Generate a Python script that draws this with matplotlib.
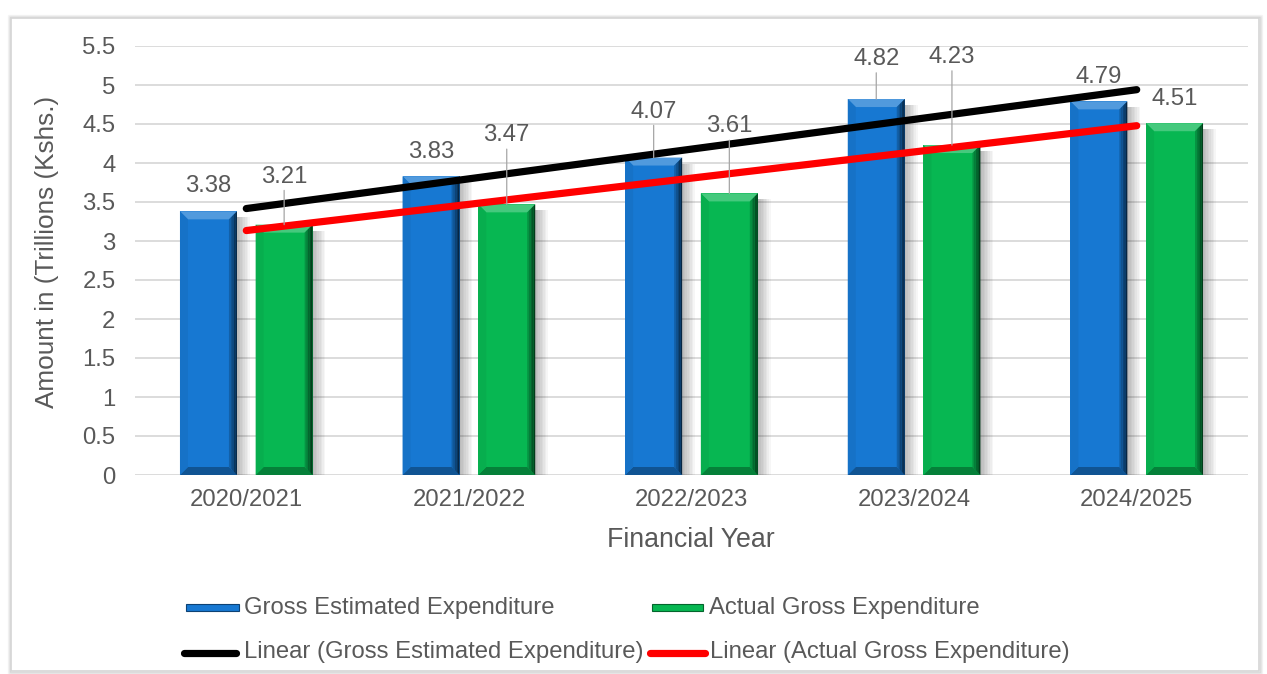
import numpy as np
import matplotlib.pyplot as plt
import matplotlib.colors as mcolors
from matplotlib.patches import Polygon, Rectangle
from matplotlib.lines import Line2D

plt.rcParams['font.family'] = ['Liberation Sans', 'DejaVu Sans']

years = ['2020/2021', '2021/2022', '2022/2023', '2023/2024', '2024/2025']
gross_estimated = [3.38, 3.83, 4.07, 4.82, 4.79]
actual_gross = [3.21, 3.47, 3.61, 4.23, 4.51]

# how high each value label sits above its bar (pixels)
est_label_lift = [25, 24, 46, 40, 24]
act_label_lift = [48, 69, 67, 88, 24]

TEXT = '#595959'
BLUE = '#1778D2'
GREEN = '#07B752'
W, H = 1267, 674
FS = 17.2


def shade(color, f):
    c = np.array(mcolors.to_rgb(color))
    if f >= 0:
        c = c + (1 - c) * f
    else:
        c = c * (1 + f)
    return tuple(c)


def bevel_bar(ax, bar, color):
    # fake Excel bevel + soft shadow on a plain bar
    x0, w, top = bar.get_x(), bar.get_width(), bar.get_height()
    x1 = x0 + w
    p0 = ax.transData.transform((0, 0))
    p1 = ax.transData.transform((1, 1))
    ux, uy = 1 / (p1[0] - p0[0]), 1 / (p1[1] - p0[1])
    dx, dy = 8 * ux, 8 * uy
    # shadow
    for k in range(8):
        ax.add_patch(Rectangle((x1, 0), (k + 1) * 1.6 * ux, top - 6 * uy,
                               color='black', alpha=0.035, lw=0, zorder=2))
    # top face
    ax.add_patch(Polygon([(x0, top), (x1, top), (x1 - dx, top - dy), (x0 + dx, top - dy)],
                         closed=True, color=shade(color, 0.25), lw=0, zorder=4))
    # bottom face
    ax.add_patch(Polygon([(x0, 0), (x1, 0), (x1 - dx, dy), (x0 + dx, dy)],
                         closed=True, color=shade(color, -0.3), lw=0, zorder=4))
    # left face
    ax.add_patch(Polygon([(x0, 0), (x0, top), (x0 + dx, top - dy), (x0 + dx, dy)],
                         closed=True, color=shade(color, -0.05), lw=0, zorder=4))
    # right face, darkening to the edge
    n = 5
    for i in range(n):
        u0, u1 = i / n, (i + 1) / n
        xa, xb = x1 - dx + u0 * dx, x1 - dx + u1 * dx
        ax.add_patch(Polygon([(xa, top - dy + u0 * dy), (xb, top - dy + u1 * dy),
                              (xb, dy - u1 * dy), (xa, dy - u0 * dy)],
                             closed=True, color=shade(color, -0.2 - 0.12 * i), lw=0, zorder=4))


fig = plt.figure(figsize=(W / 100, H / 100), dpi=100)
ax = fig.add_axes([135 / W, 199 / H, 1113 / W, 429 / H])

x = np.arange(len(years))
ax.set_xlim(-0.5, len(years) - 0.5)
ax.set_ylim(0, 5.5)

bw = 0.256
est_bars = ax.bar(x - 0.17, gross_estimated, bw, color=BLUE, zorder=3)
act_bars = ax.bar(x + 0.17, actual_gross, bw, color=GREEN, zorder=3)
for b in est_bars:
    bevel_bar(ax, b, BLUE)
for b in act_bars:
    bevel_bar(ax, b, GREEN)

# linear trend lines
xs = x + 1
for vals, col in [(gross_estimated, 'black'), (actual_gross, '#FF0000')]:
    k, c = np.polyfit(xs, vals, 1)
    ax.plot(x, k * xs + c, color=col, lw=5.2, solid_capstyle='round', zorder=6)

# value labels
for bars, vals, lifts in [(est_bars, gross_estimated, est_label_lift),
                          (act_bars, actual_gross, act_label_lift)]:
    for b, v, lift in zip(bars, vals, lifts):
        cx = b.get_x() + b.get_width() / 2
        arrow = None
        if lift > 30:
            arrow = dict(arrowstyle='-', color='#A6A6A6', lw=0.9, shrinkA=0, shrinkB=0)
        ax.annotate(f'{v:.2f}', xy=(cx, v), xytext=(0, lift), textcoords='offset pixels',
                    ha='center', va='center', fontsize=FS, color=TEXT,
                    arrowprops=arrow, zorder=7)

ax.set_yticks(np.arange(0, 5.51, 0.5))
ax.set_yticklabels([f'{t:g}' for t in np.arange(0, 5.51, 0.5)])
ax.set_xticks(x)
ax.set_xticklabels(years)
ax.tick_params(axis='both', length=0, labelsize=FS, labelcolor=TEXT)
ax.tick_params(axis='y', pad=14)
ax.tick_params(axis='x', pad=10)
ax.grid(axis='y', color='#D9D9D9', lw=1.3, zorder=0)
ax.set_axisbelow(True)
for s in ax.spines.values():
    s.set_visible(False)

fig.text(691 / W, 1 - 540 / H, 'Financial Year', ha='center', va='center',
         fontsize=19.3, color=TEXT)
fig.text(47 / W, 1 - 252 / H, 'Amount in (Trillions (Kshs.)', ha='center', va='center',
         rotation=90, fontsize=18.8, color=TEXT)

# legend, drawn by hand in two rows
def fx(px):
    return px / W


def fy(py):
    return 1 - py / H


for x0, x1, col, label, tx in [(186, 239, BLUE, 'Gross Estimated Expenditure', 244),
                               (652, 703, GREEN, 'Actual Gross Expenditure', 709)]:
    fig.add_artist(Rectangle((fx(x0), fy(611)), fx(x1 - x0), 7 / H, transform=fig.transFigure,
                             facecolor=col, edgecolor=shade(col, -0.45), lw=0.8))
    fig.text(fx(tx), fy(608), label, ha='left', va='center', fontsize=FS, color=TEXT)

for x0, x1, col, label, tx in [(184, 236, 'black', 'Linear (Gross Estimated Expenditure)', 244),
                               (650, 705, '#FF0000', 'Linear (Actual Gross Expenditure)', 710)]:
    fig.add_artist(Line2D([fx(x0), fx(x1)], [fy(653), fy(653)], transform=fig.transFigure,
                          color=col, lw=5.2, solid_capstyle='round'))
    fig.text(fx(tx), fy(652), label, ha='left', va='center', fontsize=FS, color=TEXT)

# chart border with a faint shadow
for k, a in [(3, 0.04), (2, 0.07), (1, 0.12)]:
    fig.add_artist(Rectangle((fx(11 - k), fy(671 + k)), fx(1248 + 2 * k), (653 + 2 * k) / H,
                             transform=fig.transFigure, fill=False,
                             edgecolor='black', alpha=a, lw=1))
fig.add_artist(Rectangle((fx(11), fy(671)), fx(1248), 653 / H, transform=fig.transFigure,
                         fill=False, edgecolor='#D6D6D6', lw=1.2))

fig.savefig('out.png', dpi=100)
